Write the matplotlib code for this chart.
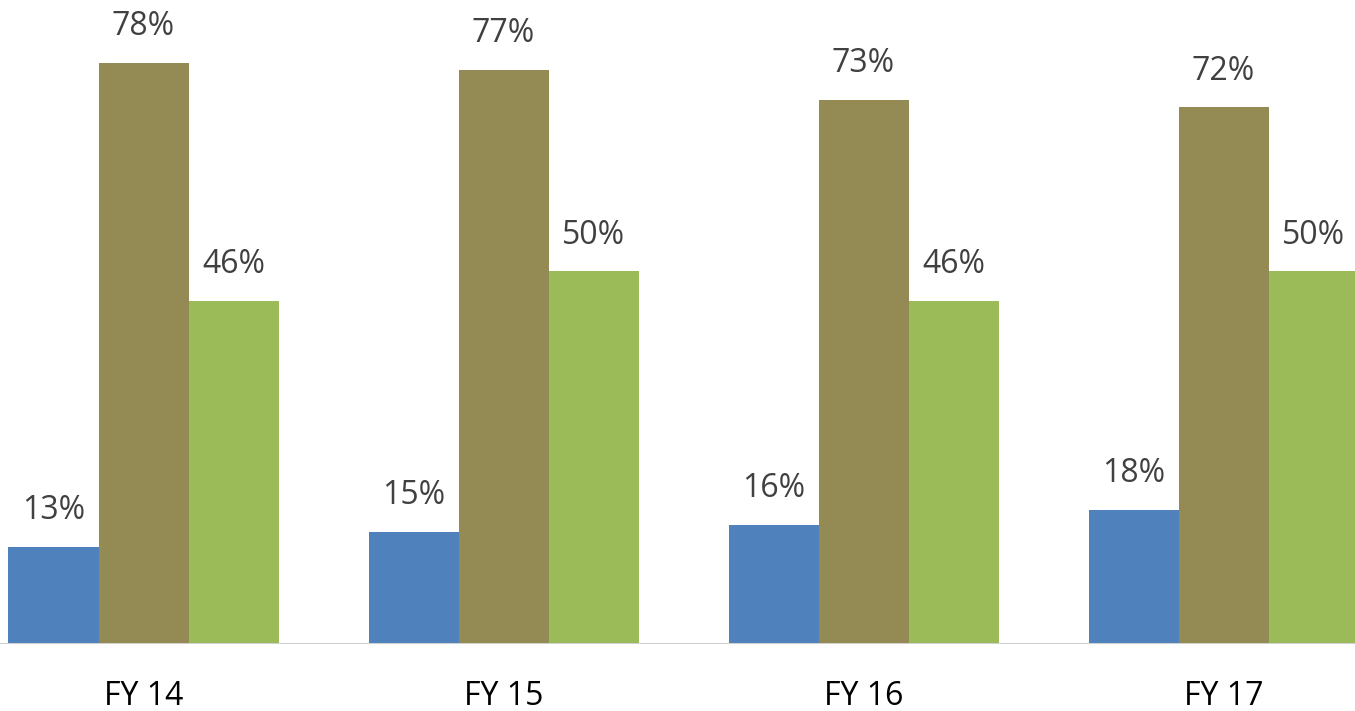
import numpy as np
import matplotlib.pyplot as plt

categories = ["FY 14", "FY 15", "FY 16", "FY 17"]
series_a = [13, 15, 16, 18]
series_b = [78, 77, 73, 72]
series_c = [46, 50, 46, 50]

COLORS = ["#4F81BD", "#948A54", "#9BBB59"]
LABEL_COLOR = "#404040"
FONT = "Open Sans"

fig = plt.figure(figsize=(13.55, 7.11), dpi=100)
ax = fig.add_axes([0, 67 / 711, 1, 644 / 711])

x = np.arange(len(categories))
width = 0.25
for i, (vals, col) in enumerate(zip([series_a, series_b, series_c], COLORS)):
    bars = ax.bar(x + (i - 1) * width, vals, width, color=col, zorder=2)
    for b, v in zip(bars, vals):
        ax.annotate(f"{v}%", (b.get_x() + b.get_width() / 2, b.get_height()),
                    xytext=(0, 20), textcoords="offset points",
                    ha="center", va="baseline", fontsize=23,
                    color=LABEL_COLOR, family=FONT)

ax.set_xlim(-0.3986, 3.365)
ax.set_ylim(0, 86.4)
ax.axhline(0, color="#D0D0D0", linewidth=2.2, zorder=3)

ax.set_xticks(x)
ax.set_xticklabels(categories, fontsize=23, family=FONT, color="black")
ax.tick_params(axis="x", length=0, pad=26)
ax.set_yticks([])
for s in ax.spines.values():
    s.set_visible(False)

fig.savefig("out.png", dpi=100, facecolor="white")
